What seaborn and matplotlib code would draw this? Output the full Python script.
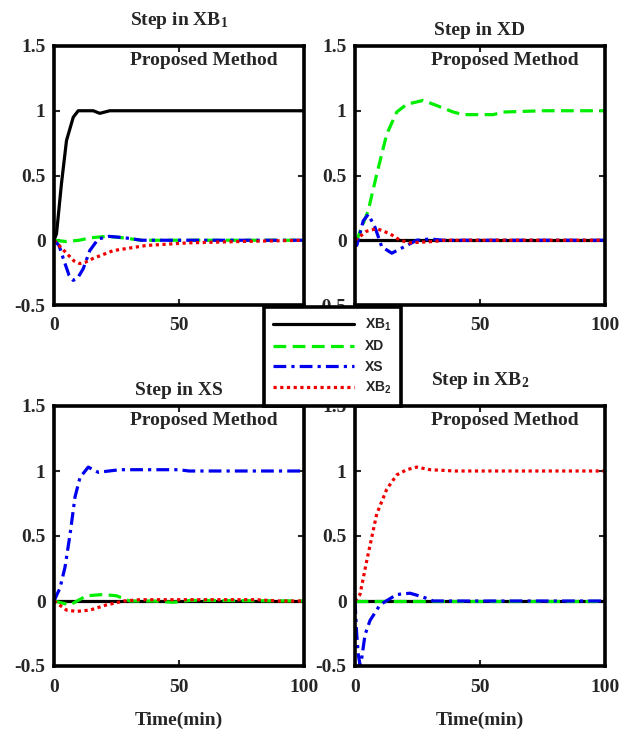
import matplotlib
matplotlib.use("Agg")
import matplotlib.pyplot as plt
import seaborn as sns
import numpy as np

sns.set_style("white")
plt.rcParams['font.family'] = ['Liberation Serif', 'DejaVu Serif']
plt.rcParams['mathtext.default'] = 'regular'

# ---------- data ----------
series_names = ["XB$_1$", "XD", "XS", "XB$_2$"]
series_colors = ["black", "#00ee00", "#0000ee", "#ee0000"]
panel_titles = ["Step in XB$_1$", "Step in XD", "Step in XS", "Step in XB$_2$"]
x_ticks = [0, 50, 100]
y_ticks = [-0.5, 0, 0.5, 1, 1.5]
y_ticklabels = ["-0.5", "0", "0.5", "1", "1.5"]

# Panel 1: step in XB1
p1_xb1_t = [0, 1, 3, 5, 7.7, 9.7, 15.7, 18.3, 22.3, 100]
p1_xb1_y = [0, 0.05, 0.44, 0.77, 0.95, 1.0, 1.0, 0.98, 1.0, 1.0]
p1_xd_t = [0, 5, 10, 15, 21, 27, 35, 100]
p1_xd_y = [0, -0.01, 0.0, 0.02, 0.03, 0.02, 0.0, 0.0]
p1_xs_t = [0, 2, 3.7, 6, 7.7, 9.5, 11.7, 14.3, 17.7, 22, 28, 35, 100]
p1_xs_y = [0, -0.04, -0.14, -0.27, -0.31, -0.29, -0.22, -0.08, 0.01, 0.03, 0.02, 0.0, 0.0]
p1_xb2_t = [0, 5, 8, 10.3, 12.5, 15.7, 23.7, 37, 54, 74, 100]
p1_xb2_y = [0, -0.1, -0.16, -0.18, -0.17, -0.14, -0.08, -0.04, -0.02, -0.01, 0.0]

# Panel 2: step in XD
p2_xb1_t = [0, 100]
p2_xb1_y = [0, 0]
p2_xd_t = [0, 0.7, 5.3, 8.7, 12.7, 16.7, 20.7, 27.3, 32.7, 39.3, 43.3, 55.3, 59.3, 75, 100]
p2_xd_y = [0, 0, 0.23, 0.51, 0.82, 0.99, 1.05, 1.08, 1.04, 0.99, 0.97, 0.97, 0.99, 1.0, 1.0]
p2_xs_t = [0, 0.7, 3.3, 5.3, 8, 10.7, 14.7, 18.7, 24.7, 30, 35.3, 100]
p2_xs_y = [0, -0.04, 0.15, 0.2, 0.1, -0.05, -0.1, -0.06, 0.0, 0.01, 0.0, 0.0]
p2_xb2_t = [0, 4.7, 8.7, 14, 18, 22, 31, 36, 100]
p2_xb2_y = [0, 0.07, 0.09, 0.05, 0.0, -0.02, -0.01, 0.0, 0.0]

# Panel 3: step in XS
p3_xb1_t = [0, 100]
p3_xb1_y = [0, 0]
p3_xd_t = [0, 6.4, 13, 19.7, 25, 30.4, 39.7, 47.7, 54.7, 100]
p3_xd_y = [0, -0.03, 0.04, 0.05, 0.04, 0.0, 0.0, -0.01, 0.005, 0.0]
p3_xs_t = [0, 2.4, 4.4, 6.4, 8.4, 10.4, 13.7, 17.7, 26.3, 50, 54, 100]
p3_xs_y = [0, 0.1, 0.26, 0.51, 0.8, 0.95, 1.03, 0.99, 1.01, 1.01, 1.0, 1.0]
p3_xb2_t = [0, 5, 9, 14.4, 21, 28, 34.4, 81, 90, 100]
p3_xb2_y = [0, -0.07, -0.08, -0.07, -0.03, 0.0, 0.01, 0.01, 0.0, 0.0]

# Panel 4: step in XB2
p4_xb1_t = [0, 100]
p4_xb1_y = [0, 0]
p4_xd_t = [0, 100]
p4_xd_y = [0, 0]
p4_xs_t = [0, 0.7, 1.3, 2, 2.7, 4, 6, 10, 13.3, 16.7, 22, 27.3, 31.3, 100]
p4_xs_y = [0, -0.26, -0.41, -0.49, -0.44, -0.26, -0.15, -0.03, 0.01, 0.05, 0.06, 0.03, 0.0, 0.0]
p4_xb2_t = [0, 2, 4.7, 8.7, 12.7, 16.7, 20.7, 24.7, 30, 40, 47, 100]
p4_xb2_y = [0, 0.05, 0.31, 0.67, 0.86, 0.97, 1.01, 1.03, 1.01, 1.0, 1.0, 1.0]

panels = [
    [(p1_xb1_t, p1_xb1_y), (p1_xd_t, p1_xd_y), (p1_xs_t, p1_xs_y), (p1_xb2_t, p1_xb2_y)],
    [(p2_xb1_t, p2_xb1_y), (p2_xd_t, p2_xd_y), (p2_xs_t, p2_xs_y), (p2_xb2_t, p2_xb2_y)],
    [(p3_xb1_t, p3_xb1_y), (p3_xd_t, p3_xd_y), (p3_xs_t, p3_xs_y), (p3_xb2_t, p3_xb2_y)],
    [(p4_xb1_t, p4_xb1_y), (p4_xd_t, p4_xd_y), (p4_xs_t, p4_xs_y), (p4_xb2_t, p4_xb2_y)],
]

# ---------- styling ----------
lw = 2.3
dash_styles = ["-", (0, (4, 2)), (0, (4, 1.6, 1, 1.6)), (0, (1, 1.1))]
fs = 14
title_pads = [15, 8, 8, 15]

W, H = 632, 729
fig = plt.figure(figsize=(W / 100, H / 100), dpi=100)

axes_px = [(54, 46, 304, 305), (355, 46, 605, 305), (54, 406, 304, 666), (355, 406, 605, 666)]
handles = None
for i, (l, t, r, b) in enumerate(axes_px):
    ax = fig.add_axes([l / W, 1 - b / H, (r - l) / W, (b - t) / H])
    lines = []
    for j, (tt, yy) in enumerate(panels[i]):
        sns.lineplot(x=np.array(tt, dtype=float), y=np.array(yy, dtype=float), ax=ax,
                     color=series_colors[j], linewidth=lw, linestyle=dash_styles[j],
                     sort=False, estimator=None)
        lines.append(ax.lines[-1])
    if handles is None:
        handles = lines
    ax.set_xlim(0, 100)
    ax.set_ylim(-0.5, 1.5)
    ax.set_xticks(x_ticks)
    ax.set_xticklabels([str(v) for v in x_ticks], fontsize=fs, fontweight='bold')
    ax.set_yticks(y_ticks)
    ax.set_yticklabels(y_ticklabels, fontsize=fs, fontweight='bold')
    ax.tick_params(direction='in', length=4, width=1.5, top=True, right=True,
                   bottom=True, left=True)
    ax.tick_params(axis='y', pad=6)
    ax.tick_params(axis='x', pad=9)
    for s in ax.spines.values():
        s.set_linewidth(2.6)
        s.set_color('black')
    ax.set_title(panel_titles[i], fontsize=fs, fontweight='bold', pad=title_pads[i])
    ax.text(0.6, 0.945, "Proposed Method", transform=ax.transAxes, ha='center', va='center',
            fontsize=fs, fontweight='bold')
    ax.set_xlabel("Time(min)" if i >= 2 else "", fontsize=fs, fontweight='bold', labelpad=12)
    ax.set_ylabel("")

leg = fig.legend(handles, series_names, loc='center',
                 bbox_to_anchor=(332.5 / W, 1 - 356.5 / H),
                 prop={'family': 'Liberation Sans', 'weight': 'bold', 'size': 10},
                 handlelength=5.8, handletextpad=0.8, labelspacing=0.45,
                 borderpad=0.7, frameon=True, fancybox=False, framealpha=1)
leg.get_frame().set_edgecolor('black')
leg.get_frame().set_linewidth(2.6)

fig.savefig("out.png", dpi=100)
